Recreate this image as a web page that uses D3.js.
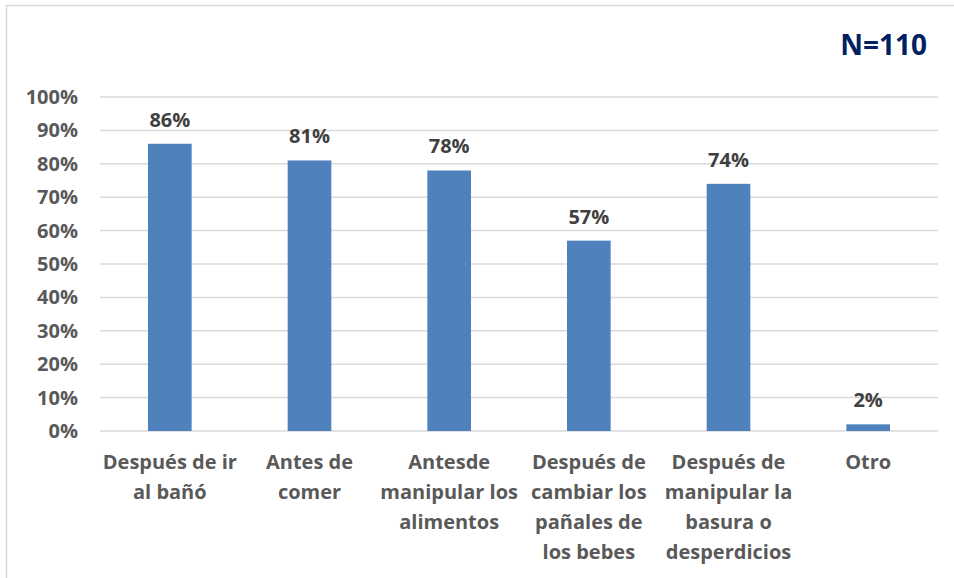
<!DOCTYPE html>
<html>
<head>
<meta charset="utf-8">
<script src="https://cdn.jsdelivr.net/npm/d3@7"></script>
<style>
  body { margin: 0; background: #fff; }
  svg text { font-family: "Open Sans", sans-serif; font-weight: 700; }
  .grid line { stroke: #d9d9d9; stroke-width: 1.5; }
  .axis text { fill: #595959; font-size: 20px; }
  .val { fill: #404040; font-size: 20px; }
</style>
</head>
<body>
<div id="chart"></div>
<script>
// categories (line breaks as in the original labels)
const categories = [
  'Después de ir\nal bañó',
  'Antes de\ncomer',
  'Antesde\nmanipular los\nalimentos',
  'Después de\ncambiar los\npañales de\nlos bebes',
  'Después de\nmanipular la\nbasura o\ndesperdicios',
  'Otro'
];
const values = [86, 81, 78, 57, 74, 2];
const yTicks = [0, 10, 20, 30, 40, 50, 60, 70, 80, 90, 100];
const note = 'N=110';

const width = 954, height = 578;
const margin = { top: 97, right: 16, bottom: 147, left: 100 };
const w = width - margin.left - margin.right;
const h = height - margin.top - margin.bottom;

const svg = d3.select('#chart').append('svg')
  .attr('width', width)
  .attr('height', height);

// outer chart border (only top/left visible in the crop)
svg.append('rect')
  .attr('x', 6.5).attr('y', 5.5)
  .attr('width', 1200).attr('height', 1200)
  .attr('fill', 'none')
  .attr('stroke', '#d9d9d9')
  .attr('stroke-width', 1.5);

const g = svg.append('g')
  .attr('transform', `translate(${margin.left},${margin.top})`);

const x = d3.scaleBand()
  .domain(categories)
  .range([0, w])
  .paddingInner(0.6875)
  .paddingOuter(0.34375);

const y = d3.scaleLinear()
  .domain([0, 100])
  .range([h, 0]);

// gridlines
g.append('g')
  .attr('class', 'grid')
  .selectAll('line')
  .data(yTicks)
  .enter().append('line')
  .attr('x1', 0).attr('x2', w)
  .attr('y1', d => y(d)).attr('y2', d => y(d));

// y axis labels
const yAxis = d3.axisLeft(y).tickValues(yTicks).tickSize(0).tickPadding(22)
  .tickFormat(d => d + '%');
g.append('g')
  .attr('class', 'axis axis--y')
  .call(yAxis)
  .call(s => s.select('.domain').remove());

// bars
g.selectAll('.bar')
  .data(values)
  .enter().append('rect')
  .attr('class', 'bar')
  .attr('fill', '#4f81bd')
  .attr('x', (d, i) => x(categories[i]))
  .attr('width', x.bandwidth())
  .attr('y', d => y(d))
  .attr('height', d => h - y(d));

// value labels
g.selectAll('.val')
  .data(values)
  .enter().append('text')
  .attr('class', 'val')
  .attr('text-anchor', 'middle')
  .attr('x', (d, i) => x(categories[i]) + x.bandwidth() / 2)
  .attr('y', d => y(d) - 17)
  .text(d => d + '%');

// x axis labels, multi-line
const xAxis = d3.axisBottom(x).tickSize(0).tickPadding(0).tickFormat('');
const xg = g.append('g')
  .attr('class', 'axis axis--x')
  .attr('transform', `translate(0,${h})`)
  .call(xAxis)
  .call(s => s.select('.domain').remove());

xg.selectAll('.tick').append('text')
  .attr('text-anchor', 'middle')
  .attr('fill', '#595959')
  .style('font-size', '20px')
  .selectAll('tspan')
  .data(d => d.split('\n'))
  .enter().append('tspan')
  .attr('x', 0)
  .attr('y', (d, i) => 38 + i * 30)
  .text(d => d);

// N note
svg.append('text')
  .attr('x', 927)
  .attr('y', 55)
  .attr('text-anchor', 'end')
  .attr('fill', '#002060')
  .style('font-size', '28px')
  .text(note);
</script>
</body>
</html>
